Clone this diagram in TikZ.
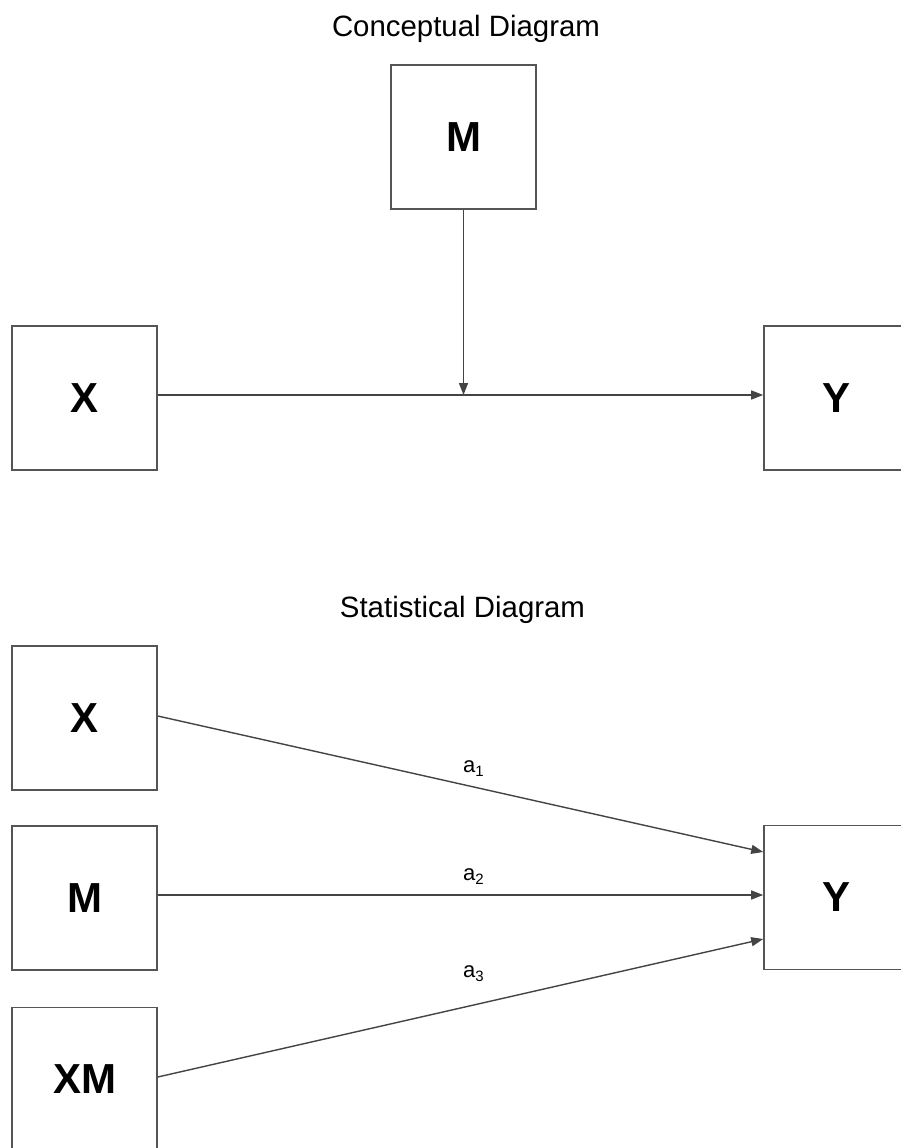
\documentclass[tikz,border=0pt]{standalone}
\usepackage{fontspec}
\setmainfont{Liberation Sans}
\usetikzlibrary{arrows.meta}
\definecolor{linegray}{HTML}{555555}
\newcommand{\sublabel}[1]{a\raisebox{-0.35ex}{\fontsize{15}{18}\selectfont #1}}
\tikzset{
  varbox/.style={draw=linegray, line width=1.6pt, minimum width=145pt, minimum height=144pt, inner sep=0pt,
    font=\fontsize{42}{48}\selectfont\bfseries},
  title/.style={font=\fontsize{29.4}{34}\selectfont, anchor=base, inner sep=0pt},
  path/.style={draw=linegray!80!black, line width=1.4pt, -{Triangle[length=12pt,width=9pt]}},
  coef/.style={font=\fontsize{22}{26}\selectfont, anchor=base west, inner sep=0pt}
}
\begin{document}
\begin{tikzpicture}[x=1pt,y=-1pt]
\useasboundingbox[fill=white] (0,0) rectangle (900,1148);
% Conceptual diagram
\node[title] (t1) at (466,37) {Conceptual Diagram};
\node[varbox] (cM) at (463.5,137) {M};
\node[varbox] (cX) at (84.5,398) {X};
\node[varbox] (cY) at (836.5,398) {Y};
\coordinate (cj) at (463.5,395);
\draw[path] ([yshift=3pt]cX.east) -- ([yshift=3pt]cY.west);
\draw[path] (cM.south) -- (cj);
% Statistical diagram
\node[title] (t2) at (462.5,617) {Statistical Diagram};
\node[varbox] (sX) at (84.5,718) {X};
\node[varbox] (sM) at (84.5,898) {M};
\node[varbox] (sXM) at (84.5,1079.5) {XM};
\node[varbox] (sY) at (836.5,897.5) {Y};
\draw[path] ([yshift=2pt]sX.east) -- ([yshift=45.5pt]sY.west);
\draw[path] ([yshift=3pt]sM.east) -- ([yshift=2.5pt]sY.west);
\draw[path] ([yshift=2.5pt]sXM.east) -- ([yshift=-41.5pt]sY.west);
\node[coef] (l1) at (463,772) {\sublabel{1}};
\node[coef] (l2) at (463,880) {\sublabel{2}};
\node[coef] (l3) at (463,977) {\sublabel{3}};
\end{tikzpicture}
\end{document}
